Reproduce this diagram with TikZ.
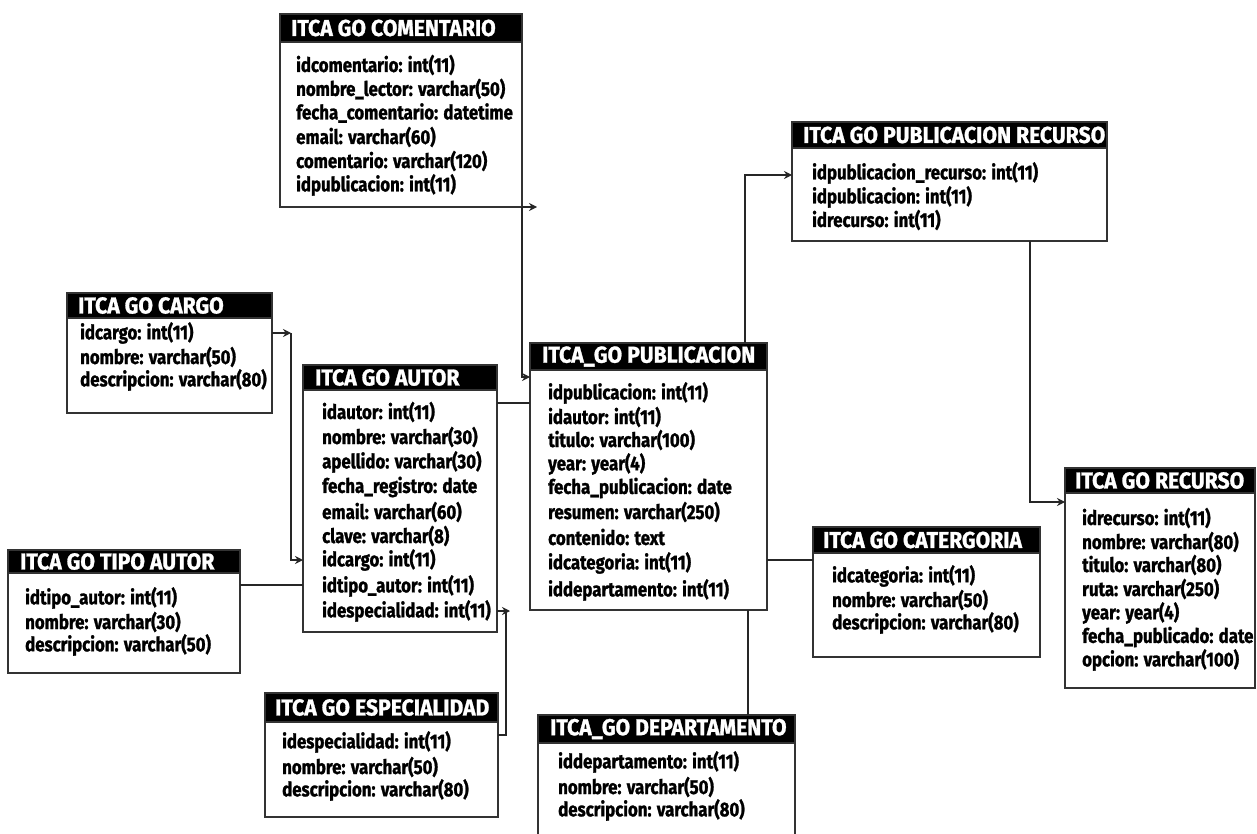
\documentclass[tikz,border=0pt]{standalone}
\usepackage{fontspec}
\setmainfont{Fira Sans}
\newfontfamily\erfont{Fira Sans}[FakeStretch=0.84, BoldFeatures={FakeBold=1.2}]
\newfontfamily\erhfont{Fira Sans}[FakeStretch=0.92, BoldFeatures={FakeBold=1.2}]
\usetikzlibrary{arrows.meta,calc}
\tikzset{
  tbody/.style={draw=black!80, line width=1.4pt, fill=white, anchor=north west, inner sep=0pt, outer sep=0pt},
  thead/.style={fill=black, draw=black!80, line width=1.4pt, anchor=north west, inner sep=0pt, outer sep=0pt},
  htext/.style={text=white, anchor=west, inner sep=0pt, font=\erhfont\bfseries\fontsize{23}{23}\selectfont},
  row/.style={anchor=west, inner sep=0pt, font=\erfont\bfseries\fontsize{20}{20}\selectfont},
  link/.style={line width=1.3pt, draw=black!85},
  arr/.style={link, -{Stealth[length=8pt,width=8pt]}},
}
\begin{document}
\begin{tikzpicture}[x=1pt,y=-1pt]
\useasboundingbox (0,0) rectangle (1257,834);
\clip (0,0) rectangle (1257,834);
\fill[white] (0,0) rectangle (1257,834);

% COMENTARIO
\node[tbody, minimum width=242pt, minimum height=193pt] (com) at (280,14) {};
\node[thead, minimum width=242pt, minimum height=28pt] (com-h) at (com.north west) {};
\node[htext] (com-t) at (291,28) {ITCA GO COMENTARIO};
\node[row] (com-1) at (296,65) {idcomentario: int(11)};
\node[row] (com-2) at (296,89) {nombre\_lector: varchar(50)};
\node[row] (com-3) at (296,113) {fecha\_comentario: datetime};
\node[row] (com-4) at (296,137) {email: varchar(60)};
\node[row] (com-5) at (296,161) {comentario: varchar(120)};
\node[row] (com-6) at (296,185) {idpublicacion: int(11)};

% PUBLICACION RECURSO
\node[tbody, minimum width=315pt, minimum height=119pt] (prc) at (792,122) {};
\node[thead, minimum width=315pt, minimum height=26pt] (prc-h) at (prc.north west) {};
\node[htext] (prc-t) at (803,135) {ITCA GO PUBLICACION RECURSO};
\node[row] (prc-1) at (812,173) {idpublicacion\_recurso: int(11)};
\node[row] (prc-2) at (812,197) {idpublicacion: int(11)};
\node[row] (prc-3) at (812,220) {idrecurso: int(11)};

% CARGO
\node[tbody, minimum width=205pt, minimum height=120pt] (car) at (67,293) {};
\node[thead, minimum width=205pt, minimum height=25pt] (car-h) at (car.north west) {};
\node[htext] (car-t) at (78,305.5) {ITCA GO CARGO};
\node[row] (car-1) at (80,333) {idcargo: int(11)};
\node[row] (car-2) at (80,357) {nombre: varchar(50)};
\node[row] (car-3) at (80,380) {descripcion: varchar(80)};

% AUTOR
\node[tbody, minimum width=194pt, minimum height=267pt] (aut) at (303,365) {};
\node[thead, minimum width=194pt, minimum height=25pt] (aut-h) at (aut.north west) {};
\node[htext] (aut-t) at (315,377.5) {ITCA GO AUTOR};
\node[row] (aut-1) at (322,412) {idautor: int(11)};
\node[row] (aut-2) at (322,437) {nombre: varchar(30)};
\node[row] (aut-3) at (322,462) {apellido: varchar(30)};
\node[row] (aut-4) at (322,487) {fecha\_registro: date};
\node[row] (aut-5) at (322,512) {email: varchar(60)};
\node[row] (aut-6) at (322,536) {clave: varchar(8)};
\node[row] (aut-7) at (322,560) {idcargo: int(11)};
\node[row] (aut-8) at (322,586) {idtipo\_autor: int(11)};
\node[row] (aut-9) at (322,611) {idespecialidad: int(11)};

% PUBLICACION
\node[tbody, minimum width=237pt, minimum height=267pt] (pub) at (530,343) {};
\node[thead, minimum width=237pt, minimum height=27pt] (pub-h) at (pub.north west) {};
\node[htext] (pub-t) at (542,356.5) {ITCA\_GO PUBLICACION};
\node[row] (pub-1) at (548,393) {idpublicacion: int(11)};
\node[row] (pub-2) at (548,417) {idautor: int(11)};
\node[row] (pub-3) at (548,440) {titulo: varchar(100)};
\node[row] (pub-4) at (548,464) {year: year(4)};
\node[row] (pub-5) at (548,488) {fecha\_publicacion: date};
\node[row] (pub-6) at (548,512) {resumen: varchar(250)};
\node[row] (pub-7) at (548,537) {contenido: text};
\node[row] (pub-8) at (548,563) {idcategoria: int(11)};
\node[row] (pub-9) at (548,590) {iddepartamento: int(11)};

% TIPO AUTOR
\node[tbody, minimum width=232pt, minimum height=123pt] (tip) at (8,550) {};
\node[thead, minimum width=232pt, minimum height=23pt] (tip-h) at (tip.north west) {};
\node[htext] (tip-t) at (20,561.5) {ITCA GO TIPO AUTOR};
\node[row] (tip-1) at (25,598) {idtipo\_autor: int(11)};
\node[row] (tip-2) at (25,622) {nombre: varchar(30)};
\node[row] (tip-3) at (25,645) {descripcion: varchar(50)};

% CATEGORIA
\node[tbody, minimum width=227pt, minimum height=130pt] (cat) at (813,527) {};
\node[thead, minimum width=227pt, minimum height=26pt] (cat-h) at (cat.north west) {};
\node[htext] (cat-t) at (823,540) {ITCA GO CATERGORIA};
\node[row] (cat-1) at (832,576) {idcategoria: int(11)};
\node[row] (cat-2) at (832,600) {nombre: varchar(50)};
\node[row] (cat-3) at (832,623) {descripcion: varchar(80)};

% RECURSO
\node[tbody, minimum width=190pt, minimum height=220pt] (rec) at (1065,468) {};
\node[thead, minimum width=190pt, minimum height=25pt] (rec-h) at (rec.north west) {};
\node[htext] (rec-t) at (1075,480.5) {ITCA GO RECURSO};
\node[row] (rec-1) at (1082,518) {idrecurso: int(11)};
\node[row] (rec-2) at (1082,542) {nombre: varchar(80)};
\node[row] (rec-3) at (1082,565) {titulo: varchar(80)};
\node[row] (rec-4) at (1082,589) {ruta: varchar(250)};
\node[row] (rec-5) at (1082,613) {year: year(4)};
\node[row] (rec-6) at (1082,637) {fecha\_publicado: date};
\node[row] (rec-7) at (1082,660) {opcion: varchar(100)};

% ESPECIALIDAD
\node[tbody, minimum width=233pt, minimum height=124pt] (esp) at (265,693) {};
\node[thead, minimum width=233pt, minimum height=29pt] (esp-h) at (esp.north west) {};
\node[htext] (esp-t) at (275,707.5) {ITCA GO ESPECIALIDAD};
\node[row] (esp-1) at (282,742) {idespecialidad: int(11)};
\node[row] (esp-2) at (282,767) {nombre: varchar(50)};
\node[row] (esp-3) at (282,790) {descripcion: varchar(80)};

% DEPARTAMENTO
\node[tbody, minimum width=257pt, minimum height=130pt] (dep) at (538,715) {};
\node[thead, minimum width=257pt, minimum height=28pt] (dep-h) at (dep.north west) {};
\node[htext] (dep-t) at (550,729) {ITCA\_GO DEPARTAMENTO};
\node[row] (dep-1) at (558,762) {iddepartamento: int(11)};
\node[row] (dep-2) at (558,787) {nombre: varchar(50)};
\node[row] (dep-3) at (558,810) {descripcion: varchar(80)};

% connectors
\draw[arr] (com.south east) -- ++(15,0);
\draw[arr] (com.south east) |- ($(pub.north west)+(0,34)$);
\draw[arr] ($(pub.north west)+(215,0)$) |- ($(prc.north west)+(0,53)$);
\draw[arr] ($(prc.south west)+(238,0)$) |- ($(rec.north west)+(0,34)$);
\draw[arr] (car.east |- car-1) -- ++(19,0);
\draw[arr] ($(car.east |- car-1)+(19,0)$) |- (aut.west |- aut-7);
\draw[link] ($(aut.north east)+(0,38)$) coordinate (e1) -- (pub.west |- e1);
\draw[link] ($(tip.north east)+(0,35)$) coordinate (f1) -- (aut.west |- f1);
\draw[arr] (aut.east |- aut-9) -- ++(13,0);
\draw[link] ($(aut.east |- aut-9)+(9,0)$) |- ($(esp.north east)+(0,42)$);
\draw[link] ($(cat.north west)+(0,33)$) coordinate (h1) -- (pub.east |- h1);
\draw[link] ($(pub.south west)+(218,0)$) coordinate (i1) -- (dep.north -| i1);
\end{tikzpicture}
\end{document}
